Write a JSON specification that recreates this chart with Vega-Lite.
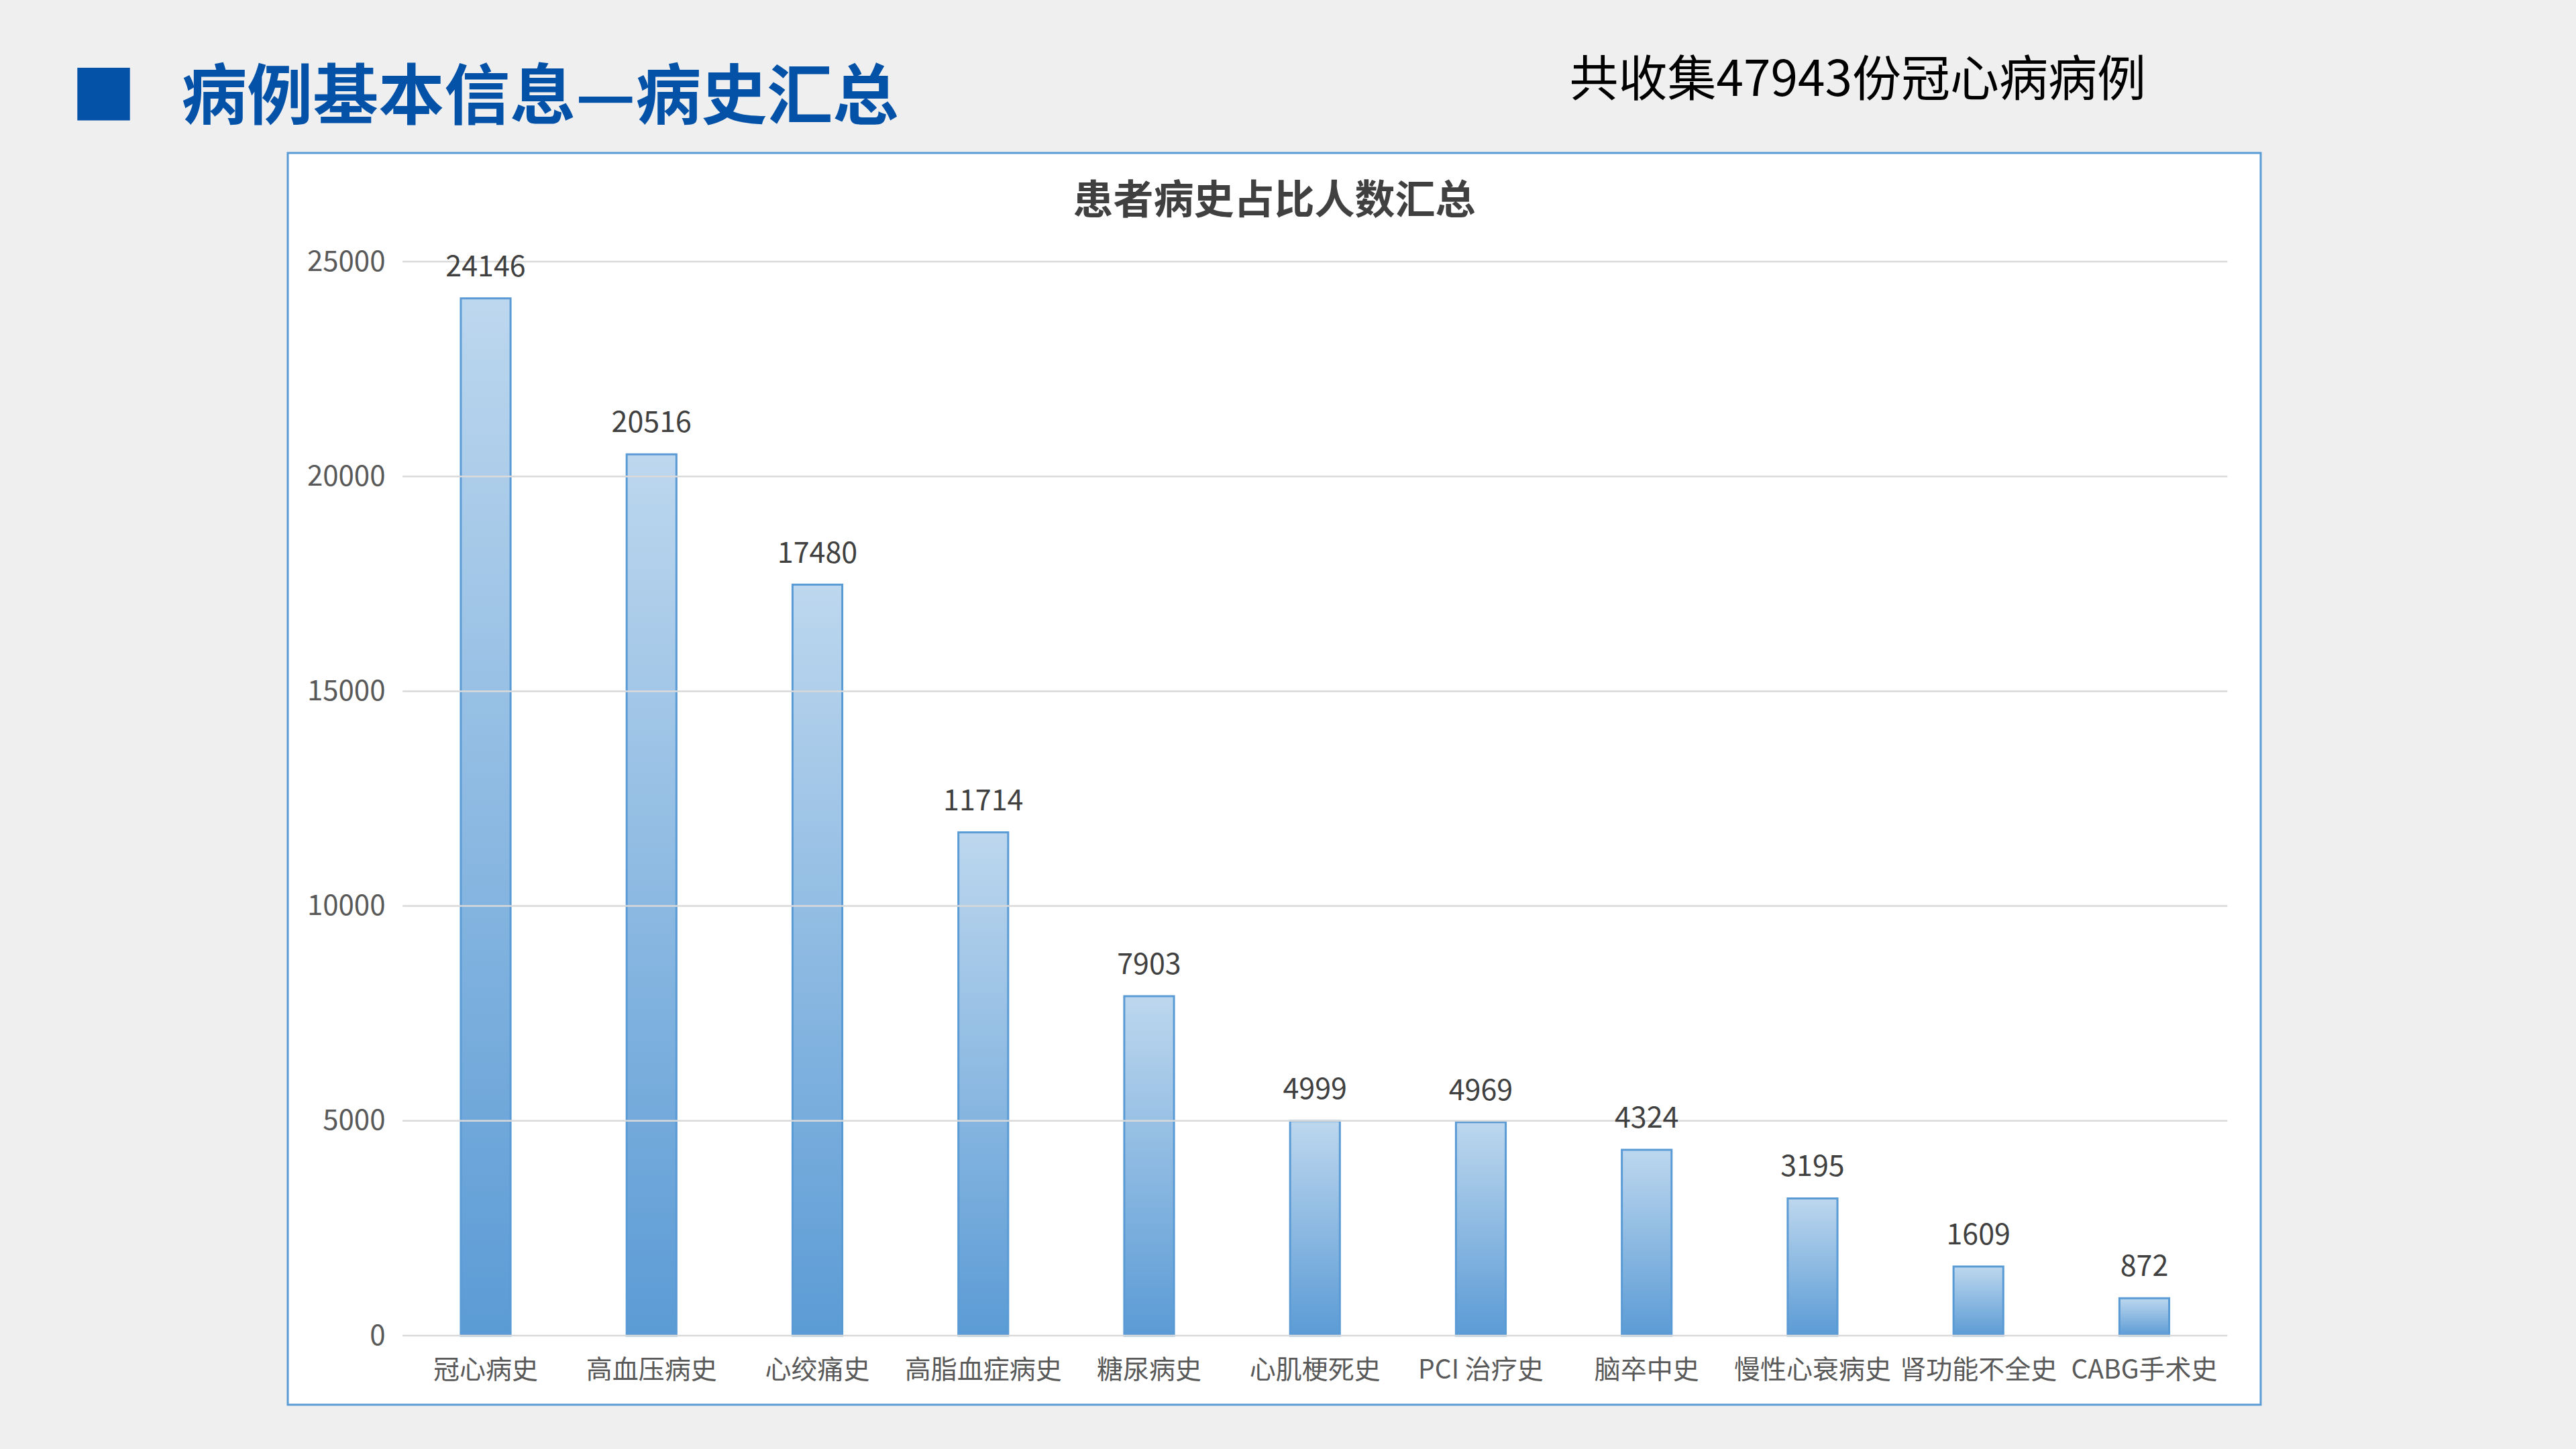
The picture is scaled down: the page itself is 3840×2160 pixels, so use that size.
{
  "$schema": "https://vega.github.io/schema/vega-lite/v6.json",
  "width": 2941,
  "height": 1866,
  "autosize": "none",
  "padding": {"left": 429, "top": 228, "right": 470, "bottom": 66},
  "background": "#efefef",
  "title": {
    "text": "患者病史占比人数汇总",
    "anchor": "middle",
    "frame": "group",
    "orient": "top",
    "baseline": "alphabetic",
    "offset": -295,
    "font": "Noto Sans CJK SC",
    "fontSize": 60,
    "fontWeight": "bold",
    "color": "#404040"
  },
  "datasets": {
    "history": [
      {"item": "冠心病史", "count": 24146},
      {"item": "高血压病史", "count": 20516},
      {"item": "心绞痛史", "count": 17480},
      {"item": "高脂血症病史", "count": 11714},
      {"item": "糖尿病史", "count": 7903},
      {"item": "心肌梗死史", "count": 4999},
      {"item": "PCI 治疗史", "count": 4969},
      {"item": "脑卒中史", "count": 4324},
      {"item": "慢性心衰病史", "count": 3195},
      {"item": "肾功能不全史", "count": 1609},
      {"item": "CABG手术史", "count": 872}
    ],
    "grid": [
      {"v": 0}, {"v": 5000}, {"v": 10000}, {"v": 15000}, {"v": 20000}, {"v": 25000}
    ]
  },
  "layer": [
    {
      "data": {"name": "history"},
      "mark": {
        "type": "bar",
        "stroke": "#5b9bd5",
        "strokeWidth": 3,
        "fill": {
          "x1": 0, "y1": 0, "x2": 0, "y2": 1,
          "gradient": "linear",
          "stops": [
            {"offset": 0, "color": "#bdd7ee"},
            {"offset": 1, "color": "#5b9bd5"}
          ]
        }
      },
      "encoding": {
        "x": {
          "field": "item",
          "type": "nominal",
          "sort": null,
          "scale": {
            "domain": ["冠心病史", "高血压病史", "心绞痛史", "高脂血症病史", "糖尿病史", "心肌梗死史", "PCI 治疗史", "脑卒中史", "慢性心衰病史", "肾功能不全史", "CABG手术史"],
            "paddingInner": 0.7,
            "paddingOuter": 0.7975,
            "align": 0.654
          },
          "axis": {
            "title": "共收集47943份冠心病病例",
            "titleX": 1910,
            "titleY": -1912,
            "titleAlign": "left",
            "titleBaseline": "alphabetic",
            "titleFont": "Noto Sans CJK SC",
            "titleFontSize": 73,
            "titleFontWeight": "normal",
            "titleColor": "#000000",
            "offset": -40,
            "labelPadding": 0,
            "labelBaseline": "alphabetic",
            "labelAngle": 0,
            "labelFont": "Noto Sans CJK SC",
            "labelFontSize": 39,
            "labelColor": "#595959",
            "labelLimit": 0,
            "labelOverlap": false,
            "labelBound": false,
            "labelFlush": false,
            "domain": false,
            "ticks": false,
            "tickSize": 0,
            "grid": false
          }
        },
        "y": {
          "field": "count",
          "type": "quantitative",
          "scale": {"domain": [-1608, 27530], "nice": false, "zero": false},
          "axis": {
            "title": "■\u00a0\u00a0\u00a0病例基本信息—病史汇总",
            "titleX": -469,
            "titleY": -52,
            "titleAngle": 0,
            "titleAlign": "left",
            "titleBaseline": "alphabetic",
            "titleFont": "Noto Sans CJK SC",
            "titleFontSize": 98,
            "titleFontWeight": "bold",
            "titleColor": "#0352a8",
            "values": [0, 5000, 10000, 15000, 20000, 25000],
            "format": "d",
            "offset": -145,
            "labelPadding": 0,
            "labelBaseline": "middle",
            "labelFont": "Noto Sans CJK SC",
            "labelFontSize": 42,
            "labelColor": "#595959",
            "domain": false,
            "ticks": false,
            "tickSize": 0,
            "grid": false
          }
        }
      }
    },
    {
      "data": {"name": "grid"},
      "mark": {"type": "rule", "color": "#d9d9d9", "strokeWidth": 2.5},
      "encoding": {
        "y": {"field": "v", "type": "quantitative"},
        "x": {"datum": "冠心病史", "type": "nominal", "bandPosition": -1.17},
        "x2": {"datum": "CABG手术史", "bandPosition": 2.17}
      }
    },
    {
      "data": {"name": "history"},
      "mark": {
        "type": "text",
        "baseline": "alphabetic",
        "dy": -33,
        "font": "Noto Sans CJK SC",
        "fontSize": 43,
        "color": "#404040"
      },
      "encoding": {
        "x": {"field": "item", "type": "nominal", "sort": null},
        "y": {"field": "count", "type": "quantitative"},
        "text": {"field": "count", "type": "quantitative", "format": "d"}
      }
    }
  ],
  "config": {
    "view": {"fill": "#ffffff", "stroke": "#5b9bd5", "strokeWidth": 3}
  }
}
